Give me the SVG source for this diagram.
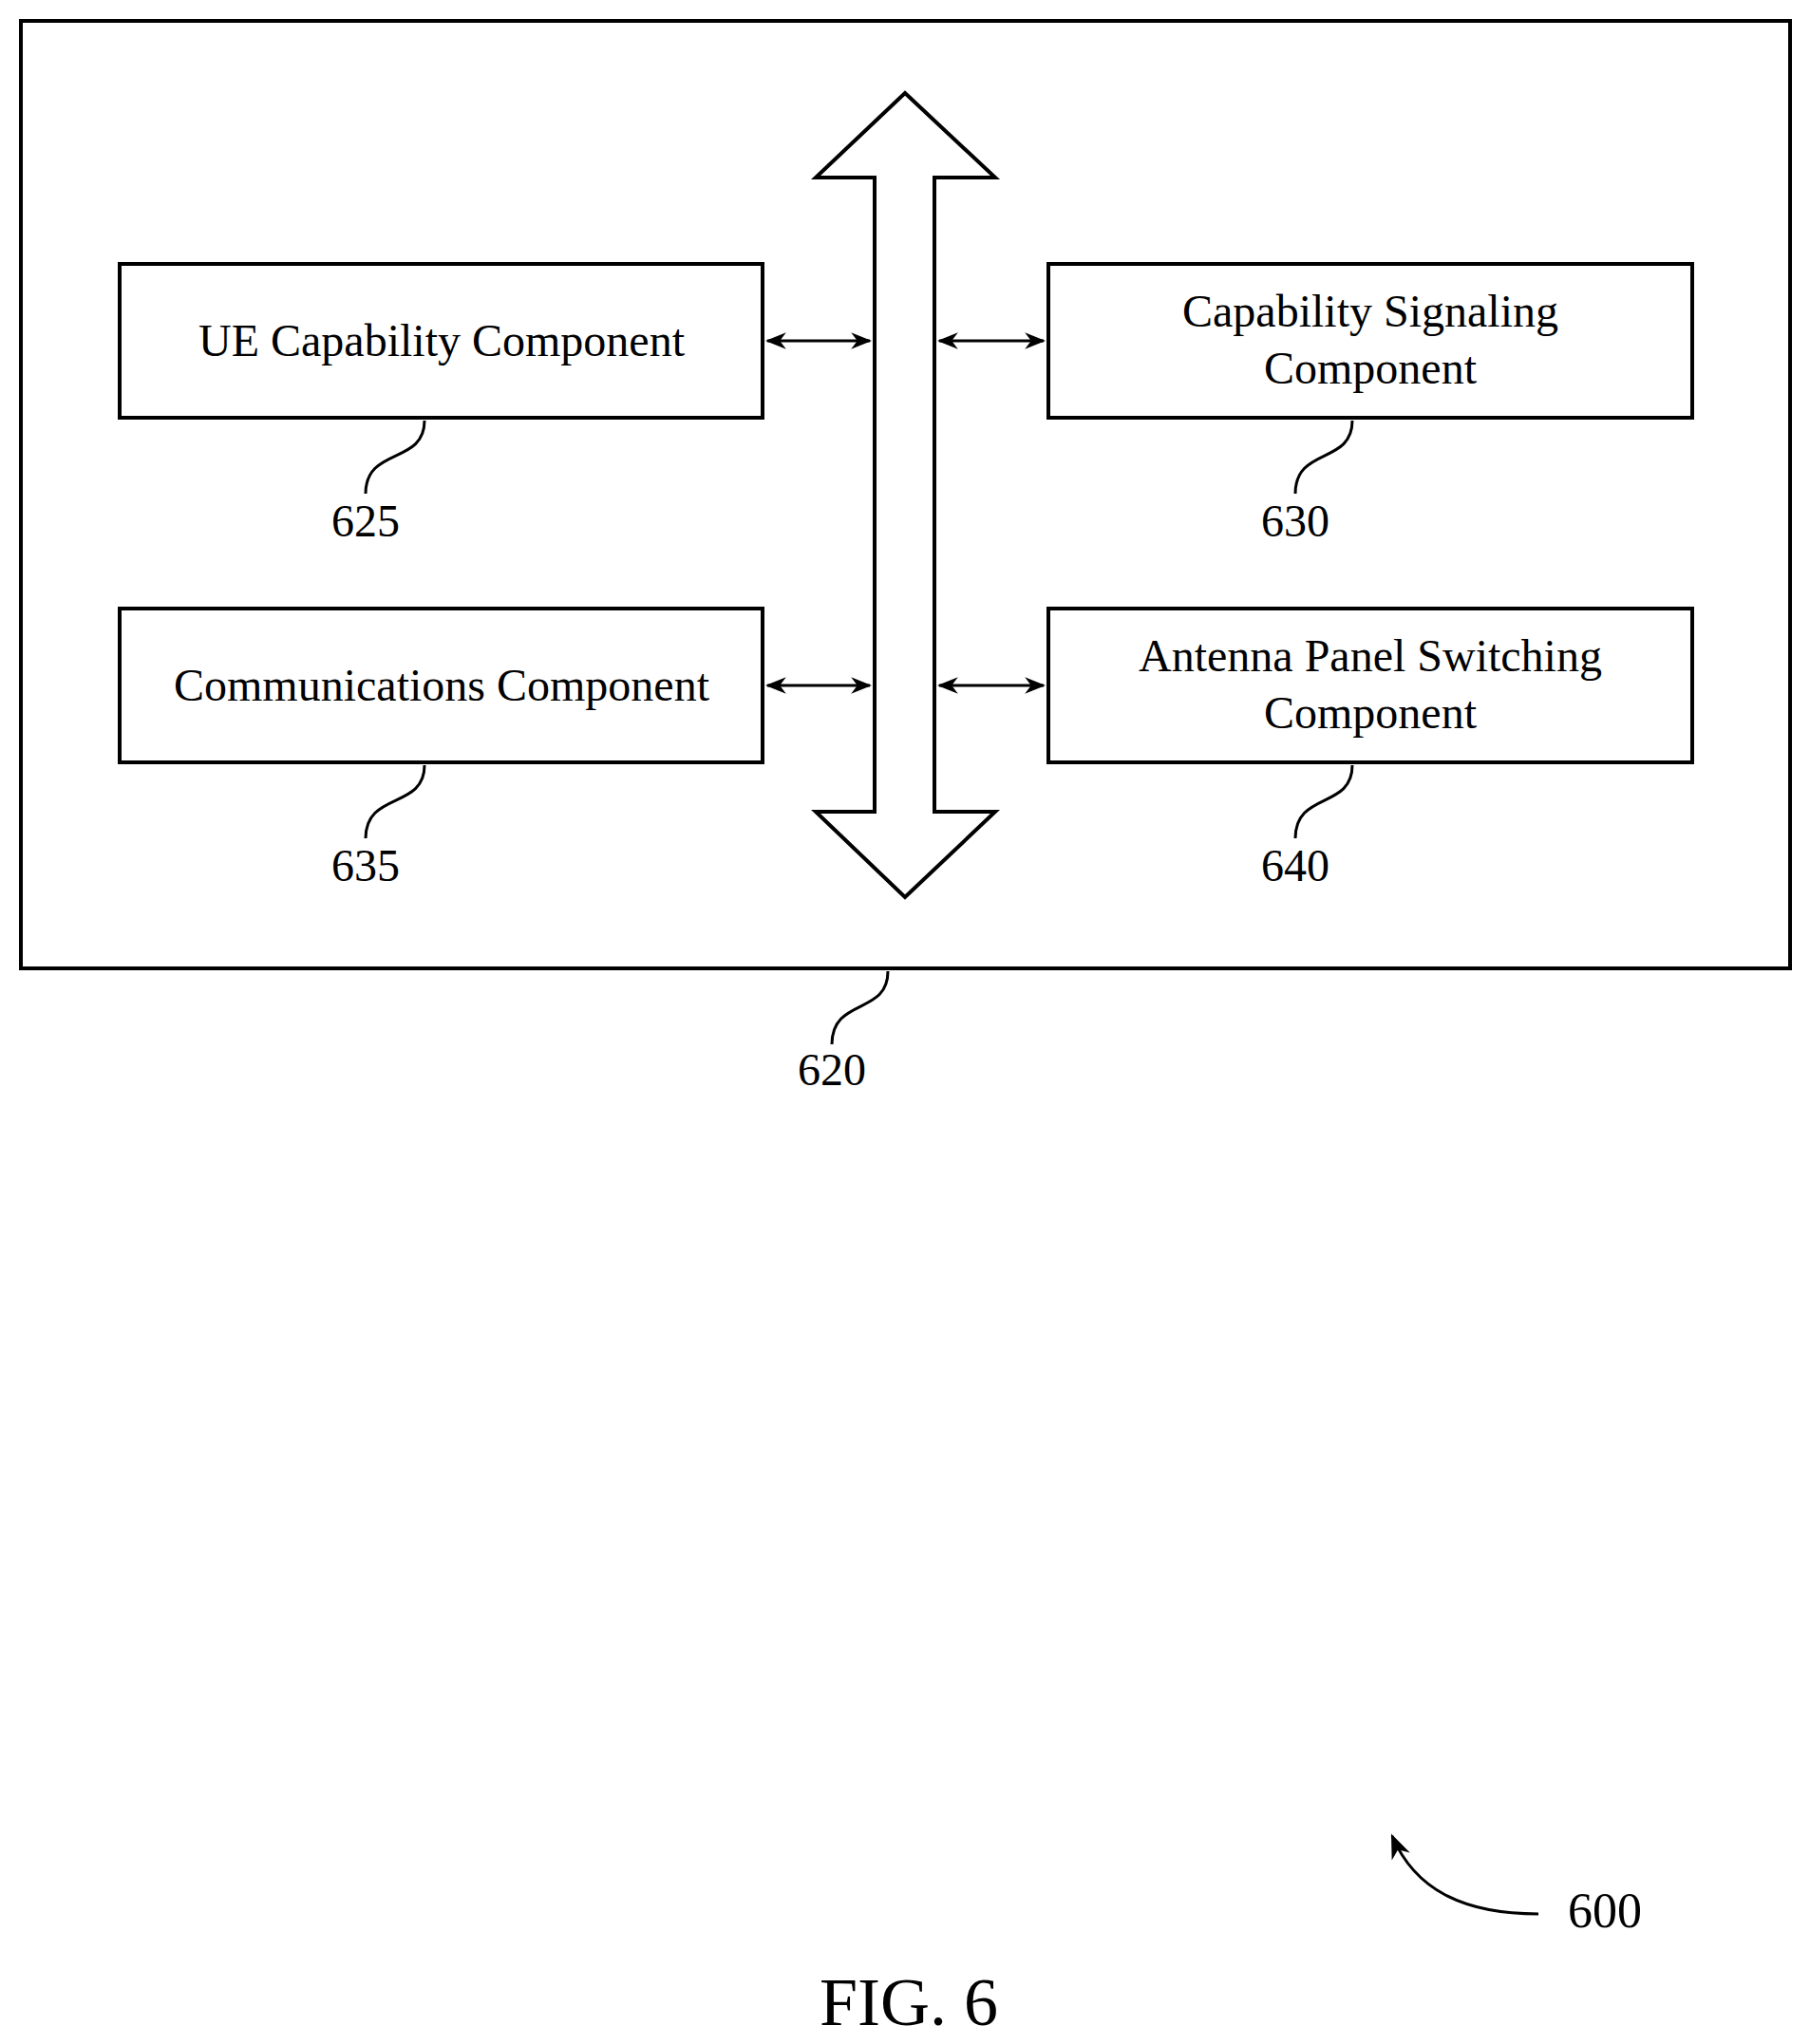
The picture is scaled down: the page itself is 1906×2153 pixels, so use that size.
<svg xmlns="http://www.w3.org/2000/svg" width="1906" height="2153" viewBox="0 0 1906 2153">
<style>
.b{fill:#fff;stroke:#000;stroke-width:4}
.l{fill:none;stroke:#000;stroke-width:3}
text{font-family:"Liberation Serif",serif;font-size:48px;text-anchor:middle}
</style>
<defs>
<marker id="a" viewBox="0 0 10 10" refX="9" refY="5" markerWidth="26" markerHeight="26" orient="auto-start-reverse" markerUnits="userSpaceOnUse"><path d="M0,1L10,5L0,9L3,5z"/></marker>
<marker id="m" viewBox="0 0 10 10" refX="9" refY="5" markerWidth="22" markerHeight="22" orient="auto-start-reverse" markerUnits="userSpaceOnUse"><path d="M0,1L10,5L0,9L3,5z"/></marker>
</defs>
<rect width="1906" height="2153" fill="#fff"/>
<g id="n620"><rect class="b" x="22" y="22" width="1863" height="998"/>
<path class="l" d="M935,1023 C935,1070 876,1050 876,1100"/><text x="876" y="1143">620</text></g>
<g id="bus"><path class="b" d="M953,98 L1048,187 L984,187 L984,855 L1048,855 L953,945 L859,855 L921,855 L921,187 L859,187 Z"/></g>
<g id="n625"><rect class="b" x="126" y="278" width="677" height="162"/><text x="465" y="375">UE Capability Component</text>
<path class="l" d="M447,443 C447,490 385,470 385,520"/><text x="385" y="565">625</text></g>
<g id="n630"><rect class="b" x="1104" y="278" width="678" height="162"/><text x="1443" y="344">Capability Signaling</text><text x="1443" y="404">Component</text>
<path class="l" d="M1424,443 C1424,490 1364,470 1364,520"/><text x="1364" y="565">630</text></g>
<g id="n635"><rect class="b" x="126" y="641" width="677" height="162"/><text x="465" y="738">Communications Component</text>
<path class="l" d="M447,806 C447,853 385,833 385,883"/><text x="385" y="928">635</text></g>
<g id="n640"><rect class="b" x="1104" y="641" width="678" height="162"/><text x="1443" y="707">Antenna Panel Switching</text><text x="1443" y="767">Component</text>
<path class="l" d="M1424,806 C1424,853 1364,833 1364,883"/><text x="1364" y="928">640</text></g>
<g id="connectors">
<line class="l" x1="808" y1="359" x2="916" y2="359" marker-start="url(#m)" marker-end="url(#m)"/>
<line class="l" x1="989" y1="359" x2="1099" y2="359" marker-start="url(#m)" marker-end="url(#m)"/>
<line class="l" x1="808" y1="722" x2="916" y2="722" marker-start="url(#m)" marker-end="url(#m)"/>
<line class="l" x1="989" y1="722" x2="1099" y2="722" marker-start="url(#m)" marker-end="url(#m)"/>
<path class="l" d="M1620,2016 C1540,2016 1490,1990 1466,1934" marker-end="url(#a)"/>
</g>
<text x="1690" y="2030" style="font-size:52px">600</text>
<text x="957" y="2133" style="font-size:72px">FIG. 6</text>
</svg>
